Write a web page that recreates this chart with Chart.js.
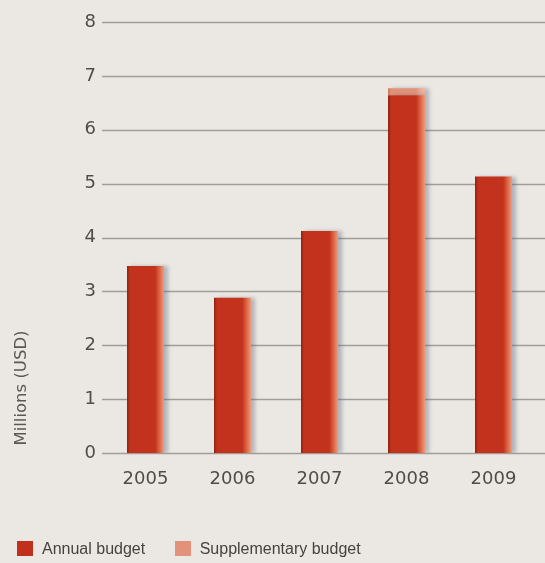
<!DOCTYPE html>
<html>
<head>
<meta charset="utf-8">
<script src="https://cdn.jsdelivr.net/npm/chart.js@4.4.1/dist/chart.umd.min.js"></script>
<style>
  html, body { margin: 0; padding: 0; }
  body { width: 545px; height: 563px; background: #ebe8e4; overflow: hidden; position: relative; }
  #wrap { position: absolute; left: 0; top: 0; width: 545px; height: 563px; }
  #legend { position: absolute; left: 17px; top: 540px; font-family: "Liberation Sans", Arial, sans-serif; font-size: 16px; color: #454240; white-space: nowrap; }
  #legend .item { display: inline-block; }
  #legend .box { display: inline-block; width: 16px; height: 15px; vertical-align: -2px; margin-right: 9px; }
</style>
</head>
<body>
<div id="wrap"><canvas id="chart" width="545" height="563"></canvas></div>
<div id="legend">
  <span class="item" style="margin-right:25px"><span class="box" style="background:#c0301c"></span>Annual budget</span>
  <span class="item"><span class="box" style="background:#e2927a"></span>Supplementary budget</span>
</div>
<script>
// Data
const years = ['2005', '2006', '2007', '2008', '2009'];
const annualBudget = [3.47, 2.88, 4.12, 6.64, 5.13];
const supplementaryBudget = [0, 0, 0, 0.13, 0];
const yTicks = [0, 1, 2, 3, 4, 5, 6, 7, 8];

const BAR_PCT = 0.425;

// Shaded fill across each bar, built from the x scale
function barFill(base, dark, light, edge) {
    return (context) => {
        const chart = context.chart;
        const xs = chart.scales.x;
        if (!xs || context.dataIndex === undefined) return base;
        const cx = xs.getPixelForValue(context.dataIndex);
        const w = (xs.width / years.length) * BAR_PCT;
        if (!isFinite(cx) || !isFinite(w) || w <= 0) return base;
        const x0 = cx - w / 2;
        const g = chart.ctx.createLinearGradient(x0, 0, x0 + w, 0);
        g.addColorStop(0, dark);
        g.addColorStop(0.08, base);
        g.addColorStop(0.76, base);
        g.addColorStop(0.86, light);
        g.addColorStop(1, edge);
        return g;
    };
}

// Background + gridlines across the full width
const gridPlugin = {
    id: 'gridLines',
    beforeDraw(chart) {
        const { ctx, chartArea } = chart;
        const y = chart.scales.y;
        ctx.save();
        ctx.fillStyle = '#ebe8e4';
        ctx.fillRect(0, 0, chart.width, chart.height);
        ctx.strokeStyle = '#a19d99';
        ctx.lineWidth = 1.4;
        yTicks.forEach(v => {
            const py = Math.round(y.getPixelForValue(v)) + 0.5;
            ctx.beginPath();
            ctx.moveTo(chartArea.left, py);
            ctx.lineTo(chart.width, py);
            ctx.stroke();
        });
        ctx.restore();
    }
};

// Soft shadow to the right of the bars
const shadowPlugin = {
    id: 'barShadow',
    beforeDatasetsDraw(chart) {
        const ctx = chart.ctx;
        ctx.save();
        ctx.shadowColor = 'rgba(90, 100, 120, 0.4)';
        ctx.shadowBlur = 4;
        ctx.shadowOffsetX = 4;
        ctx.shadowOffsetY = 0;
    },
    afterDatasetsDraw(chart) {
        chart.ctx.restore();
    }
};

// Y axis title placed low, as in the original
const yTitlePlugin = {
    id: 'yTitle',
    afterDraw(chart) {
        const ctx = chart.ctx;
        ctx.save();
        ctx.translate(22, 388);
        ctx.rotate(-Math.PI / 2);
        ctx.font = '16.5px "DejaVu Sans"';
        ctx.fillStyle = '#5a5754';
        ctx.textAlign = 'center';
        ctx.textBaseline = 'middle';
        ctx.fillText('Millions (USD)', 0, 0);
        ctx.restore();
    }
};

new Chart(document.getElementById('chart'), {
    type: 'bar',
    data: {
        labels: years,
        datasets: [
            {
                label: 'Annual budget',
                data: annualBudget,
                backgroundColor: barFill('#c2321c', '#8e200f', '#d85c3c', '#ee9c7c'),
                borderWidth: 0,
                categoryPercentage: 1,
                barPercentage: BAR_PCT
            },
            {
                label: 'Supplementary budget',
                data: supplementaryBudget,
                backgroundColor: barFill('#e2927a', '#d0735a', '#eaa890', '#f0b8a0'),
                borderWidth: 0,
                categoryPercentage: 1,
                barPercentage: BAR_PCT
            }
        ]
    },
    options: {
        responsive: false,
        animation: false,
        layout: { padding: { top: 22, right: 8, left: 0, bottom: 0 } },
        plugins: {
            legend: { display: false },
            tooltip: { enabled: false }
        },
        scales: {
            x: {
                stacked: true,
                grid: { display: false, drawTicks: false },
                border: { display: false },
                ticks: {
                    color: '#4f4c49',
                    font: { family: 'DejaVu Sans', size: 18 },
                    padding: 16
                },
                afterFit(axis) { axis.height = 110; }
            },
            y: {
                stacked: true,
                min: 0,
                max: 8,
                grid: { display: false, drawTicks: false },
                border: { display: false },
                afterBuildTicks(axis) { axis.ticks = yTicks.map(v => ({ value: v })); },
                ticks: {
                    color: '#4f4c49',
                    font: { family: 'DejaVu Sans', size: 18 },
                    padding: 6
                },
                afterFit(axis) { axis.width = 102; }
            }
        }
    },
    plugins: [gridPlugin, shadowPlugin, yTitlePlugin]
});
</script>
</body>
</html>
